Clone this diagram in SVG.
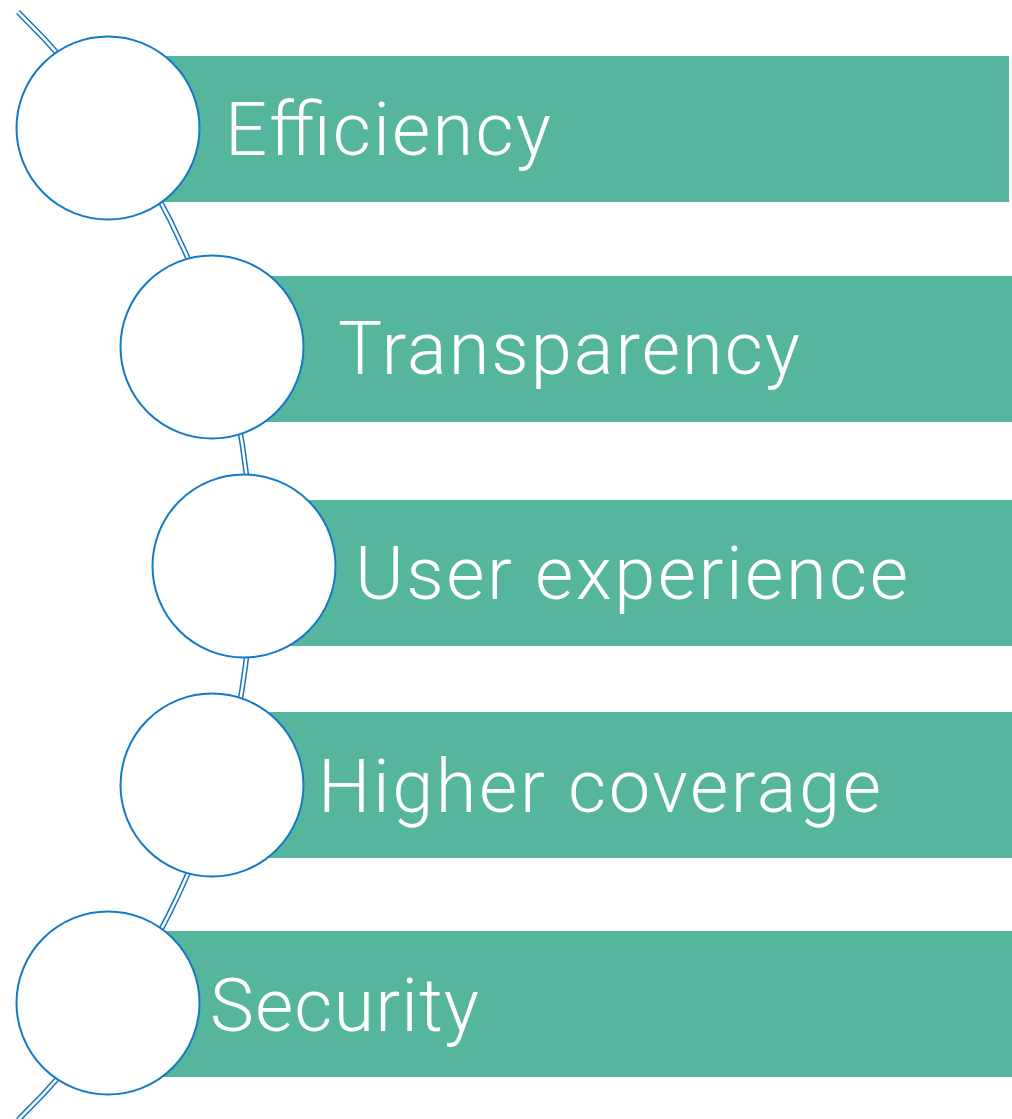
<svg xmlns="http://www.w3.org/2000/svg" width="1012" height="1119" viewBox="0 0 1012 1119">
  <style>
    .bar { fill: #56b59d; }
    .node circle { fill: #ffffff; stroke: #127ac9; stroke-width: 2; }
    .lbl { font-family: Roboto, "Liberation Sans", sans-serif; font-weight: 300; font-size: 74px; fill: #ffffff; }
    .outer { fill: none; stroke: #1676c0; stroke-width: 5.5; }
    .inner { fill: none; stroke: #ffffff; stroke-width: 2.5; }
  </style>
  <rect width="1012" height="1119" fill="#ffffff"/>
  <g id="connectors">
    <path class="outer" d="M 18 12 A 773.3 773.3 0 0 1 18 1120"/>
    <path class="inner" d="M 18 12 A 773.3 773.3 0 0 1 18 1120"/>
  </g>
  <g id="node-efficiency" class="node">
    <rect class="bar" x="108" y="56" width="901" height="146"/>
    <circle cx="108" cy="128" r="91.5"/>
    <text class="lbl" x="225" y="155" textLength="326" lengthAdjust="spacing">Efficiency</text>
  </g>
  <g id="node-transparency" class="node">
    <rect class="bar" x="212" y="276" width="800" height="146"/>
    <circle cx="212" cy="347" r="91.5"/>
    <text class="lbl" x="338" y="374" textLength="462" lengthAdjust="spacing">Transparency</text>
  </g>
  <g id="node-user-experience" class="node">
    <rect class="bar" x="244" y="500" width="768" height="146"/>
    <circle cx="244" cy="566" r="91.5"/>
    <text class="lbl" x="355" y="599" textLength="553" lengthAdjust="spacing">User experience</text>
  </g>
  <g id="node-higher-coverage" class="node">
    <rect class="bar" x="212" y="712" width="800" height="146"/>
    <circle cx="212" cy="785" r="91.5"/>
    <text class="lbl" x="318" y="812" textLength="563" lengthAdjust="spacing">Higher coverage</text>
  </g>
  <g id="node-security" class="node">
    <rect class="bar" x="108" y="931" width="904" height="146"/>
    <circle cx="108" cy="1003" r="91.5"/>
    <text class="lbl" x="210" y="1031" textLength="269" lengthAdjust="spacing">Security</text>
  </g>
</svg>
